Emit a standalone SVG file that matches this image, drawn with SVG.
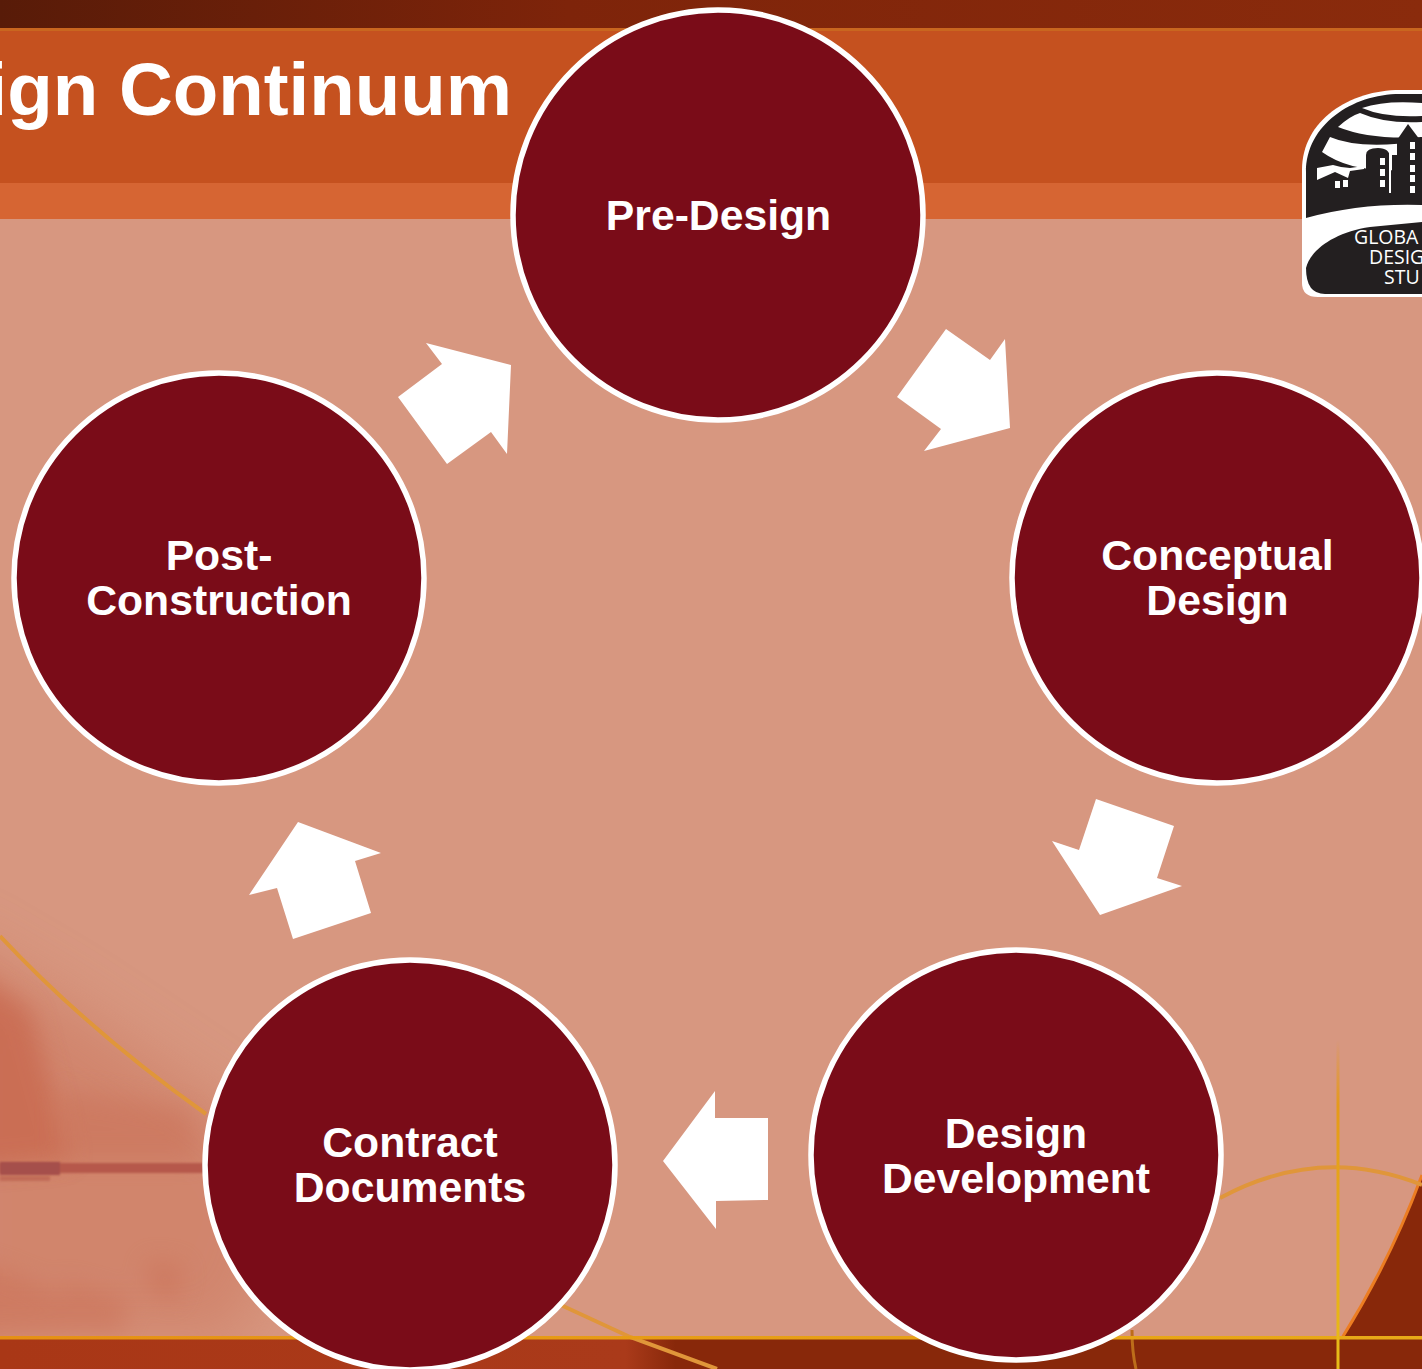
<svg xmlns="http://www.w3.org/2000/svg" width="1422" height="1369" viewBox="0 0 1422 1369">
<style>
.n{fill:#7a0c18;stroke:#fff;stroke-width:5.5}
.l{font:bold 42.7px "Liberation Sans",Arial,sans-serif;fill:#fff;text-anchor:middle}
.a{fill:#fff}
.g{font:500 19.5px "Open Sans","Noto Sans",sans-serif;fill:#fff}
.o{fill:none;stroke:#e0963a;stroke-width:4}
</style>
<defs>
<linearGradient id="top" x1="0" x2="1" y1="0" y2="0"><stop offset="0" stop-color="#581b08"/><stop offset=".4" stop-color="#7e240a"/><stop offset="1" stop-color="#8a2b0c"/></linearGradient>
<linearGradient id="bot" x1="0" x2="1" y1="0" y2="0"><stop offset="0" stop-color="#a93716"/><stop offset=".44" stop-color="#aa3a1a"/><stop offset=".475" stop-color="#88280a"/><stop offset="1" stop-color="#88280a"/></linearGradient>
<linearGradient id="v" x1="0" x2="0" y1="1040" y2="1369" gradientUnits="userSpaceOnUse"><stop offset="0" stop-color="#e59a1a" stop-opacity="0"/><stop offset=".2" stop-color="#e59a1a"/><stop offset="1" stop-color="#e8bc18"/></linearGradient>
<linearGradient id="h" x1="0" x2="1" y1="0" y2="0"><stop offset="0" stop-color="#e59015"/><stop offset="1" stop-color="#e8aa18"/></linearGradient>
<filter id="b" x="-40%" y="-40%" width="180%" height="180%"><feGaussianBlur stdDeviation="30"/></filter>
<filter id="b3" x="-40%" y="-40%" width="180%" height="180%"><feGaussianBlur stdDeviation="12"/></filter>
<filter id="b2" x="-10%" y="-100%" width="120%" height="300%"><feGaussianBlur stdDeviation="1.2"/></filter>
</defs>
<g id="background">
<rect width="1422" height="1369" fill="#d79780"/>
<path d="M-60,930 L60,1000 L240,1120 L290,1200 L240,1339 L-60,1339Z" fill="#cf7f66" opacity=".75" filter="url(#b)"/>
<path d="M-40,960 L30,1010 L70,1160 L-40,1170Z" fill="#c4583c" opacity=".5" filter="url(#b3)"/>
<path d="M60,1090 L190,1110 L200,1160 L60,1160Z" fill="#c96e55" opacity=".45" filter="url(#b3)"/>
<path d="M-30,1260 Q50,1280 110,1330 L-30,1339Z M60,1280 L130,1300 L120,1335 L80,1330Z M145,1260 L185,1265 L175,1305 L150,1290Z" fill="#c96a50" opacity=".4" filter="url(#b3)"/>
<path d="M0,1176 H50 V1181 H0Z" fill="#b55a48" opacity=".55" filter="url(#b2)"/>
<path d="M0,1163 H205 V1173 H0Z" fill="#b6584c" filter="url(#b2)"/>
<path d="M0,1162 H60 V1175 H0Z" fill="#a5504c" filter="url(#b2)"/>
<path class="o" d="M0,936 C60,1000 130,1060 206,1114"/>
<rect y="0" width="1422" height="29" fill="url(#top)"/>
<rect y="28" width="1422" height="3" fill="#c9661f"/>
<rect y="31" width="1422" height="152" fill="#c5511f"/>
<rect y="183" width="1422" height="36" fill="#d66533"/>
<rect y="1339" width="1422" height="30" fill="url(#bot)"/>
<path d="M1342,1339 C1375,1285 1400,1235 1422,1175 V1339Z" fill="#88280a"/>
<path d="M1342,1338 C1375,1285 1400,1235 1422,1175" fill="none" stroke="#ec7d22" stroke-width="3"/>
<path class="o" d="M1220,1198 Q1320,1144 1422,1185"/>
<path class="o" d="M550,1300 L630,1337 L717,1369"/>
<path d="M1132,1330 Q1132,1352 1136,1369" fill="none" stroke="#bd6d1a" stroke-width="3"/>
<rect y="1336" width="1422" height="3.5" fill="url(#h)"/>
<rect x="1336.5" y="1040" width="3" height="329" fill="url(#v)"/>
<text x="512" y="115" font-family="Liberation Sans,Arial,sans-serif" font-weight="bold" font-size="74.5" fill="#fff" text-anchor="end">ign Continuum</text>
</g>
<g id="logo">
<path d="M1302,283 V170 C1302,120 1350,90 1400,90 H1422 V297 H1318 Q1302,297 1302,283Z" fill="#fff"/>
<path d="M1306,218 V172 C1306,125 1352,94 1400,94 H1422 V205 Q1360,203 1306,218Z" fill="#231f20"/>
<path d="M1306,268 C1310,250 1335,232 1370,227 L1422,222 V294 H1325 Q1306,294 1306,268Z" fill="#231f20"/>
<path d="M1362,108 Q1385,100 1422,103 V116 Q1385,118 1362,108Z M1338,127 Q1350,116 1360,113 Q1385,124 1422,122 V137 Q1370,140 1338,127Z M1322,152 L1330,137 Q1360,150 1422,141 V170 H1397 Q1350,172 1322,152Z" fill="#fff"/>
<path d="M1317,168 L1333,165 L1341,167 L1350,168 L1364,166 L1364,169 L1350,171 L1348,178 L1335,172 L1317,180Z" fill="#fff"/>
<path d="M1366,155 Q1366,148 1378,148 Q1390,148 1390,158 V195 H1366Z M1397,140 L1408,124 L1420,140 V195 H1397Z M1420,137 H1422 V195 H1420Z" fill="#231f20"/>
<path d="M1392,155 H1397 V195 H1392Z" fill="#231f20"/>
<path d="M1335,181 h5 v7 h-5Z M1343,180 h5 v7 h-5Z M1380,158 h5 v7 h-5Z M1380,169 h5 v7 h-5Z M1380,180 h5 v7 h-5Z M1389,150 h2 v43 h-2Z M1410,142 h5 v7 h-5Z M1410,153 h5 v7 h-5Z M1410,165 h5 v7 h-5Z M1410,175 h5 v7 h-5Z M1410,186 h5 v7 h-5Z" fill="#fff"/>
<text class="g" x="1354" y="244">GLOBA</text>
<text class="g" x="1369" y="264">DESIG</text>
<text class="g" x="1384" y="284">STU</text>
</g>
<g id="connectors">
<polygon class="a" points="398,397 442,364 426,343 511,365 507,454 491,432 447,464"/>
<polygon class="a" points="946,329 990,360 1005,339 1010,428 924,451 941,429 897,397"/>
<polygon class="a" points="1096,799 1174,826 1157,878 1182,886 1100,915 1052,841 1079,850"/>
<polygon class="a" points="768,1118 768,1200 716,1201 716,1229 663,1161 715,1091 715,1118"/>
<polygon class="a" points="371,913 293,939 277,888 249,895 298,822 381,853 355,861"/>
</g>
<g id="node-pre-design"><circle class="n" cx="718" cy="215" r="205"/><text class="l" x="718.5" y="230">Pre-Design</text></g>
<g id="node-conceptual-design"><circle class="n" cx="1217" cy="578" r="205"/><text class="l" x="1217.5" y="570">Conceptual</text><text class="l" x="1217.5" y="615">Design</text></g>
<g id="node-design-development"><circle class="n" cx="1016" cy="1155" r="205"/><text class="l" x="1016" y="1148">Design</text><text class="l" x="1016" y="1193">Development</text></g>
<g id="node-contract-documents"><circle class="n" cx="410" cy="1165" r="205"/><text class="l" x="410" y="1157">Contract</text><text class="l" x="410" y="1202">Documents</text></g>
<g id="node-post-construction"><circle class="n" cx="219" cy="578" r="205"/><text class="l" x="219" y="570">Post-</text><text class="l" x="219" y="615">Construction</text></g>
</svg>
